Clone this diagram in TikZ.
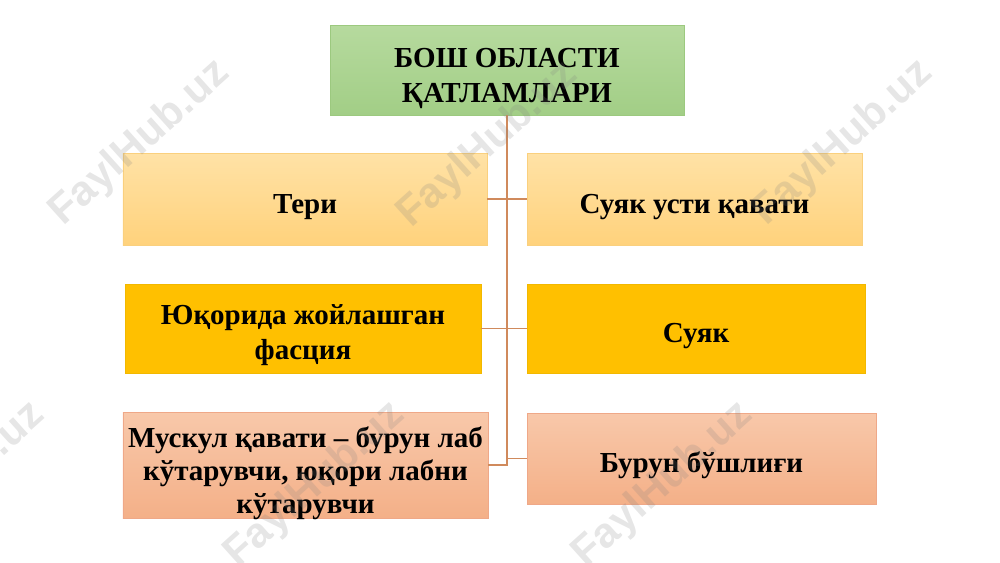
\documentclass[tikz,border=0pt]{standalone}
\usepackage{fontspec}
\setmainfont{Liberation Serif}
\setsansfont{Liberation Sans}
\definecolor{greenT}{HTML}{B6DA9E}
\definecolor{greenB}{HTML}{A2CE86}
\definecolor{greenD}{HTML}{9CC97F}
\definecolor{paleT}{HTML}{FFE2A6}
\definecolor{paleB}{HTML}{FFD27C}
\definecolor{paleD}{HTML}{FAD07E}
\definecolor{gold}{HTML}{FFC000}
\definecolor{goldD}{HTML}{F2B800}
\definecolor{salmonT}{HTML}{F8C8AA}
\definecolor{salmonB}{HTML}{F4B088}
\definecolor{salmonD}{HTML}{EFA888}
\definecolor{linkc}{HTML}{D08A5C}
\tikzset{
	layer/.style={align=center, inner sep=0pt,
			font=\bfseries\fontsize{16.5}{19.5}\selectfont,
			execute at begin node={\rule{0pt}{#1}}},
	layer/.default=20pt,
	pale/.style={layer=#1, draw=paleD, top color=paleT, bottom color=paleB},
	pale/.default=20pt,
	solid gold/.style={layer=#1, draw=goldD, fill=gold},
	solid gold/.default=20pt,
	salmon/.style={layer=#1, draw=salmonD, top color=salmonT, bottom color=salmonB},
	salmon/.default=20pt,
	link/.style={draw=linkc, line width=0.6pt},
	watermark/.style={font=\sffamily\bfseries\fontsize{24}{24}\selectfont,
			text=gray, opacity=0.2, rotate=42}
}

\begin{document}
\begin{tikzpicture}[x=0.2mm,y=-0.2mm]
			\useasboundingbox (0,0) rectangle (1000,562);
			\node[layer=40pt, draw=greenD, top color=greenT, bottom color=greenB,
				minimum width=70.8mm, minimum height=18mm] (title) at (507,70)
			{БОШ ОБЛАСТИ\\ҚАТЛАМЛАРИ};
			\node[pale, minimum width=72.8mm, minimum height=18.4mm] (teri) at (305,199) {Тери};
			\node[pale, minimum width=67mm, minimum height=18.4mm] (usti) at (694.5,199) {Суяк усти қавати};
			\node[solid gold=38.5pt, minimum width=71.2mm, minimum height=17.8mm] (fascia) at (303,328.5)
			{Юқорида жойлашган\\фасция};
			\node[solid gold, minimum width=67.6mm, minimum height=17.8mm] (suyak) at (696,328.5) {Суяк};
			\node[salmon=0pt, font=\bfseries\fontsize{16.5}{18.8}\selectfont,
				text height=55pt, text depth=0pt,
				minimum width=73mm, minimum height=21.2mm] (muskul) at (305.5,465)
			{Мускул қавати – бурун лаб\\кўтарувчи, юқори лабни\\кўтарувчи};
			\node[salmon, minimum width=69.8mm, minimum height=18.2mm] (bushliq) at (701.5,458.5)
			{Бурун бўшлиғи};
			% spine and branches
			\draw[link] (title.south) -- (title.south |- muskul.east) -- (muskul.east);
			\draw[link] (title.south |- bushliq.west) -- (bushliq.west);
			\draw[link] (teri.east) -- (usti.west);
			\draw[link] (fascia.east) -- (suyak.west);
			% site marks
			\foreach \x/\y [count=\i] in {140/143, 488/145, 843/143, -45/485, 315/485, 663/485}
			\node[watermark] (wm\i) at (\x,\y) {FaylHub.uz};
		\end{tikzpicture}
\end{document}
